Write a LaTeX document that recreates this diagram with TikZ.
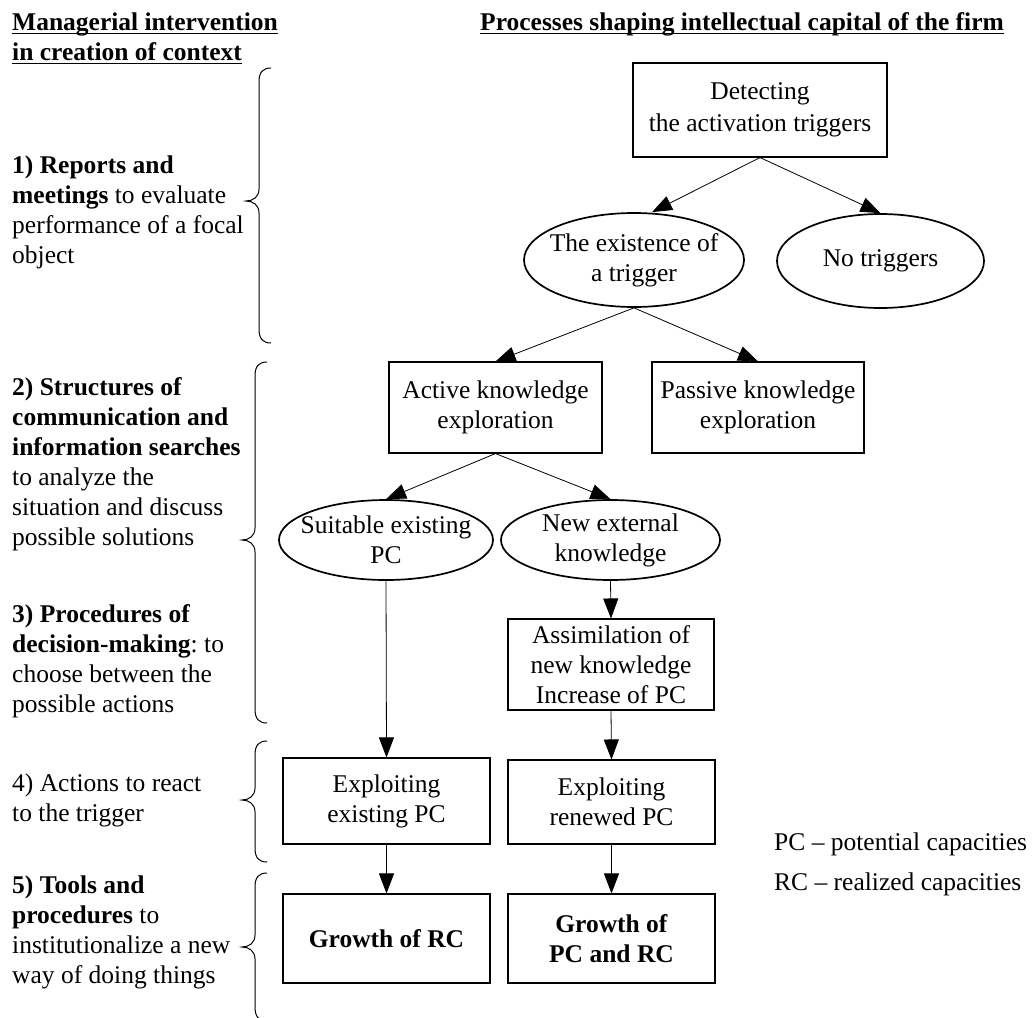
\documentclass[tikz,border=0pt]{standalone}
\usepackage{fontspec}
\setmainfont{Liberation Serif}
\usetikzlibrary{arrows.meta,shapes.geometric}
\newcommand{\mybrace}[4]{%
\draw[bracestyle] ({#1+12},#2) .. controls ({#1+4},#2) and (#1,{#2+4}) .. (#1,{#2+14}) -- (#1,{#3-12}) .. controls (#1,{#3-4}) and ({#1-6},#3) .. ({#1-13},#3) .. controls ({#1-6},#3) and (#1,{#3+4}) .. (#1,{#3+12}) -- (#1,{#4-14}) .. controls (#1,{#4-4}) and ({#1+4},#4) .. ({#1+12},#4);}
\begin{document}
\begin{tikzpicture}[x=1pt,y=-1pt,
  every node/.style={font=\fontsize{25.5}{30}\selectfont},
  txt/.style={inner sep=0pt,anchor=base west},
  blk/.style={inner sep=0pt,anchor=base west,text width=250pt,align=left,
    execute at begin node={\frenchspacing\spaceskip=6.4pt plus 0pt minus 0pt\relax}},
  boxn/.style={draw,line width=1.1pt,inner sep=0pt,align=center,rectangle},
  elln/.style={draw,line width=1.7pt,ellipse,inner xsep=-25pt,inner ysep=-8pt,align=center},
  arr/.style={draw,line width=0.8pt,-{Triangle[length=20pt,width=15pt]}},
  uline/.style={line width=1.6pt},
  bracestyle/.style={line width=1pt}]
\useasboundingbox (0,0) rectangle (1032,1017);
\fill[white] (0,0) rectangle (1032,1017);

% headers
\node[txt] (h1) at (12,30) {\textbf{Managerial intervention}};
\node[txt] (h2) at (12,60) {\textbf{in creation of context}};
\node[txt] (h3) at (480,30) {\textbf{Processes shaping intellectual capital of the firm}};
\draw[uline] ([yshift=-3.5pt]h1.base west) -- ([yshift=-3.5pt]h1.base east);
\draw[uline] ([yshift=-3.5pt]h2.base west) -- ([yshift=-3.5pt]h2.base east);
\draw[uline] ([yshift=-3.5pt]h3.base west) -- ([yshift=-3.5pt]h3.base east);

% left text blocks
\node[blk] (b1) at (12,173) {\textbf{1) Reports and}\\\textbf{meetings} to evaluate\\performance of a focal\\object};
\node[blk] (b2) at (12,395) {\textbf{2) Structures of}\\\textbf{communication and}\\\textbf{information searches}\\to analyze the\\situation and discuss\\possible solutions};
\node[blk] (b3) at (12,622) {\textbf{3) Procedures of}\\\textbf{decision-making}: to\\choose between the\\possible actions};
\node[blk] (b4) at (12,791) {4) Actions to react\\to the trigger};
\node[blk] (b5) at (12,893) {\textbf{5) Tools and}\\\textbf{procedures} to\\institutionalize a new\\way of doing things};

% braces
\mybrace{259}{68}{201}{343}
\mybrace{255}{362}{540}{723}
\mybrace{255}{741}{800}{862}
\mybrace{255}{873}{947}{1021}

% process nodes
\node[boxn,minimum width=254pt,minimum height=94pt] (det) at (760,110) {Detecting\\[2pt]the activation triggers};
\node[elln,minimum width=220pt,minimum height=94pt] (ex) at (634,260) {The existence of\\a trigger};
\node[elln,minimum width=207pt,minimum height=94pt] (no) at (880.5,261) {No triggers};
\node[boxn,minimum width=213pt,minimum height=91pt] (act) at (495.5,407.5) {Active knowledge\\exploration};
\node[boxn,minimum width=212pt,minimum height=91pt] (pas) at (758,407.5) {Passive knowledge\\exploration};
\node[elln,minimum width=214pt,minimum height=80pt] (suit) at (386,540) {Suitable existing\\PC};
\node[elln,minimum width=219pt,minimum height=80pt] (new) at (610.5,540) {New external\\knowledge};
\node[boxn,minimum width=206pt,minimum height=91pt] (asm) at (611,664.5) {Assimilation of\\new knowledge\\Increase of PC};
\node[boxn,minimum width=207pt,minimum height=86pt] (exe) at (386.5,801) {Exploiting\\existing PC};
\node[boxn,minimum width=207pt,minimum height=84pt] (exr) at (611.5,802) {Exploiting\\renewed PC};
\node[boxn,minimum width=207pt,minimum height=89pt] (grc) at (386.5,938.5) {\textbf{Growth of RC}};
\node[boxn,minimum width=207pt,minimum height=89pt] (gpr) at (611.5,938.5) {\textbf{Growth of}\\\textbf{PC and RC}};

% connectors
\draw[arr] (det.south) -- ([xshift=18pt]ex.north);
\draw[arr] (det.south) -- (no.north);
\draw[arr] (ex.south) -- (act.north);
\draw[arr] (ex.south) -- (pas.north);
\draw[arr] (act.south) -- (suit.north);
\draw[arr] (act.south) -- (new.north);
\draw[arr] (new.south) -- (asm.north);
\draw[arr] (suit.south) -- (exe.north);
\draw[arr] (asm.south) -- (exr.north);
\draw[arr] (exe.south) -- (grc.north);
\draw[arr] (exr.south) -- (gpr.north);

% legend
\node[txt] (lg1) at (774,850) {PC – potential capacities};
\node[txt] (lg2) at (774,890) {RC – realized capacities};
\end{tikzpicture}
\end{document}
